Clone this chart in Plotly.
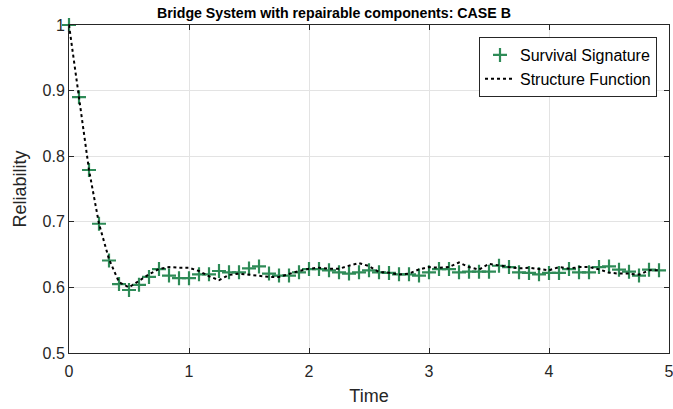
import plotly.graph_objects as go

step = 1 / 12
time = [i * step for i in range(60)]

survival_signature = [
    1.000, 0.890, 0.779, 0.697, 0.641, 0.605, 0.596, 0.604, 0.616, 0.628,
    0.618, 0.614, 0.614, 0.620, 0.620, 0.625, 0.623, 0.623, 0.629, 0.632,
    0.621, 0.618, 0.618, 0.623, 0.628, 0.628, 0.626, 0.623, 0.621, 0.623,
    0.626, 0.623, 0.622, 0.620, 0.620, 0.618, 0.623, 0.628, 0.628, 0.623,
    0.624, 0.624, 0.624, 0.633, 0.631, 0.623, 0.622, 0.620, 0.622, 0.622,
    0.628, 0.623, 0.623, 0.631, 0.632, 0.627, 0.624, 0.618, 0.627, 0.626,
]

structure_function = [
    1.000, 0.890, 0.779, 0.697, 0.643, 0.608, 0.600, 0.610, 0.620, 0.628,
    0.631, 0.630, 0.630, 0.625, 0.617, 0.611, 0.619, 0.621, 0.619, 0.6175,
    0.616, 0.616, 0.621, 0.625, 0.6285, 0.630, 0.6285, 0.6285, 0.633, 0.637,
    0.6325, 0.6235, 0.6225, 0.6195, 0.621, 0.6275, 0.631, 0.630, 0.631, 0.638,
    0.631, 0.627, 0.636, 0.633, 0.631, 0.629, 0.630, 0.628, 0.626, 0.631,
    0.6285, 0.631, 0.631, 0.6275, 0.6225, 0.621, 0.621, 0.6195, 0.626, 0.626,
]

x_ticks = [0, 1, 2, 3, 4, 5]
y_ticks = [0.5, 0.6, 0.7, 0.8, 0.9, 1.0]
y_tick_labels = ["0.5", "0.6", "0.7", "0.8", "0.9", "1"]

green = "rgb(46,139,87)"
font = "Liberation Sans, Arial, Helvetica, sans-serif"
ink = "#262626"

fig = go.Figure()
fig.add_trace(go.Scatter(
    x=time, y=survival_signature, mode="markers", name="Survival Signature",
    marker=dict(symbol="cross-thin", size=10, color=green,
                line=dict(color=green, width=2.2)),
    cliponaxis=False,
))
fig.add_trace(go.Scatter(
    x=time, y=structure_function, mode="lines", name="Structure Function",
    line=dict(color="black", width=2, dash="dot"),
))

axis_common = dict(
    showline=True, linecolor=ink, linewidth=1, mirror="ticks",
    ticks="inside", ticklen=5, tickcolor=ink,
    showgrid=True, gridcolor="#e3e3e3", gridwidth=1, zeroline=False,
    tickfont=dict(family=font, size=16, color=ink),
    automargin=False, ticklabeloverflow="allow",
)

fig.update_layout(
    width=673, height=409,
    margin=dict(l=69, r=4, t=25, b=56),
    paper_bgcolor="white", plot_bgcolor="white",
    font=dict(family=font, color=ink),
    title=dict(text="<b>Bridge System with repairable components: CASE B</b>",
               x=334 / 673, xanchor="center", y=1 - 13 / 409, yanchor="middle",
               font=dict(family=font, size=14.2, color="black")),
    xaxis=dict(range=[0, 5], tickvals=x_ticks, ticktext=[str(v) for v in x_ticks],
               ticklabelstandoff=4,
               title=dict(text="Time", font=dict(family=font, size=18, color=ink), standoff=10),
               **axis_common),
    yaxis=dict(range=[0.5, 1], tickvals=y_ticks, ticktext=y_tick_labels,
               title=dict(text="Reliability", font=dict(family=font, size=18, color=ink), standoff=11),
               **axis_common),
    legend=dict(x=(657 - 69) / 600, y=1 - (37 - 25) / 328, xanchor="right", yanchor="top",
                bgcolor="white", bordercolor=ink, borderwidth=1,
                font=dict(family=font, size=16, color="black"),
                tracegroupgap=0, itemwidth=30),
    showlegend=True,
)

fig.write_html("out.html", config={"displayModeBar": False},
               post_script="document.body.style.margin='0';")
